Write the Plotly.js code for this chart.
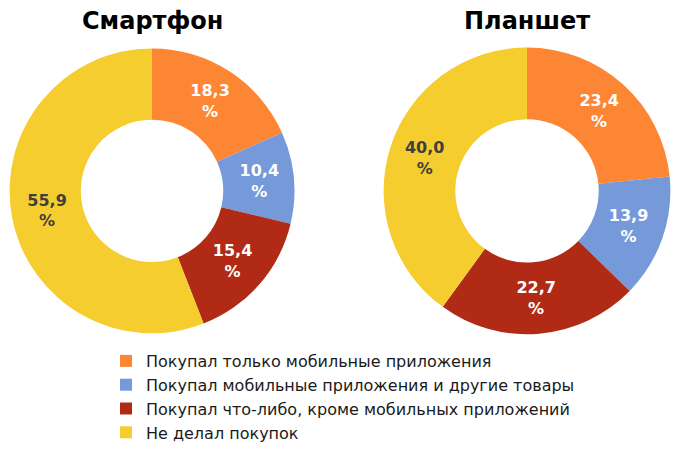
<!DOCTYPE html>
<html>
<head>
<meta charset="utf-8">
<script src="https://cdn.plot.ly/plotly-3.0.1.min.js"></script>
<style>html,body{margin:0;padding:0;background:#fff;}#chart{width:678px;height:450px;}</style>
</head>
<body>
<div id="chart"></div>
<script>
const categories = [
  "Покупал только мобильные приложения",
  "Покупал мобильные приложения и другие товары",
  "Покупал что-либо, кроме мобильных приложений",
  "Не делал покупок"
];
const smartphoneValues = [18.3, 10.4, 15.4, 55.9];
const tabletValues = [23.4, 13.9, 22.7, 40.0];
const chartTitles = ["Смартфон", "Планшет"];
const colors = ["#FD8634", "#7599D9", "#B02A16", "#F5CD2F"];
const textColors = ["#FFFFFF", "#FFFFFF", "#FFFFFF", "#3F3F3F"];

function fmt(vals) {
  return vals.map(v => v.toFixed(1).replace('.', ',') + '<br>%');
}

function pieTrace(vals, domain) {
  return {
    type: 'pie',
    labels: categories,
    values: vals,
    text: fmt(vals),
    textinfo: 'text',
    hoverinfo: 'label+percent',
    textposition: 'inside',
    insidetextorientation: 'horizontal',
    insidetextfont: {family: 'DejaVu Sans', size: 16, color: textColors, weight: 'bold'},
    hole: 0.5,
    sort: false,
    direction: 'clockwise',
    rotation: 0,
    marker: {colors: colors, line: {width: 0}},
    domain: domain
  };
}

const data = [
  pieTrace(smartphoneValues, {x: [8/678, 296/678], y: [113/450, 401/450]}),
  pieTrace(tabletValues, {x: [382/678, 672/678], y: [112/450, 402/450]})
];

const layout = {
  width: 678, height: 450,
  margin: {l: 0, r: 0, t: 0, b: 0},
  paper_bgcolor: '#fff',
  showlegend: true,
  legend: {
    x: 106/678, y: 1 - 348/450, xanchor: 'left', yanchor: 'top',
    font: {family: 'DejaVu Sans', size: 16, color: '#1a1a1a'},
    traceorder: 'normal', itemclick: false
  },
  annotations: [
    {text: '<b>' + chartTitles[0] + '</b>', x: 152/678, y: 1 - 21/450, xanchor: 'center', yanchor: 'middle', xref: 'paper', yref: 'paper', showarrow: false, font: {family: 'DejaVu Sans', size: 24, color: '#000'}},
    {text: '<b>' + chartTitles[1] + '</b>', x: 527/678, y: 1 - 21/450, xanchor: 'center', yanchor: 'middle', xref: 'paper', yref: 'paper', showarrow: false, font: {family: 'DejaVu Sans', size: 24, color: '#000'}}
  ]
};

Plotly.newPlot('chart', data, layout, {displayModeBar: false, staticPlot: true});
</script>
</body>
</html>
